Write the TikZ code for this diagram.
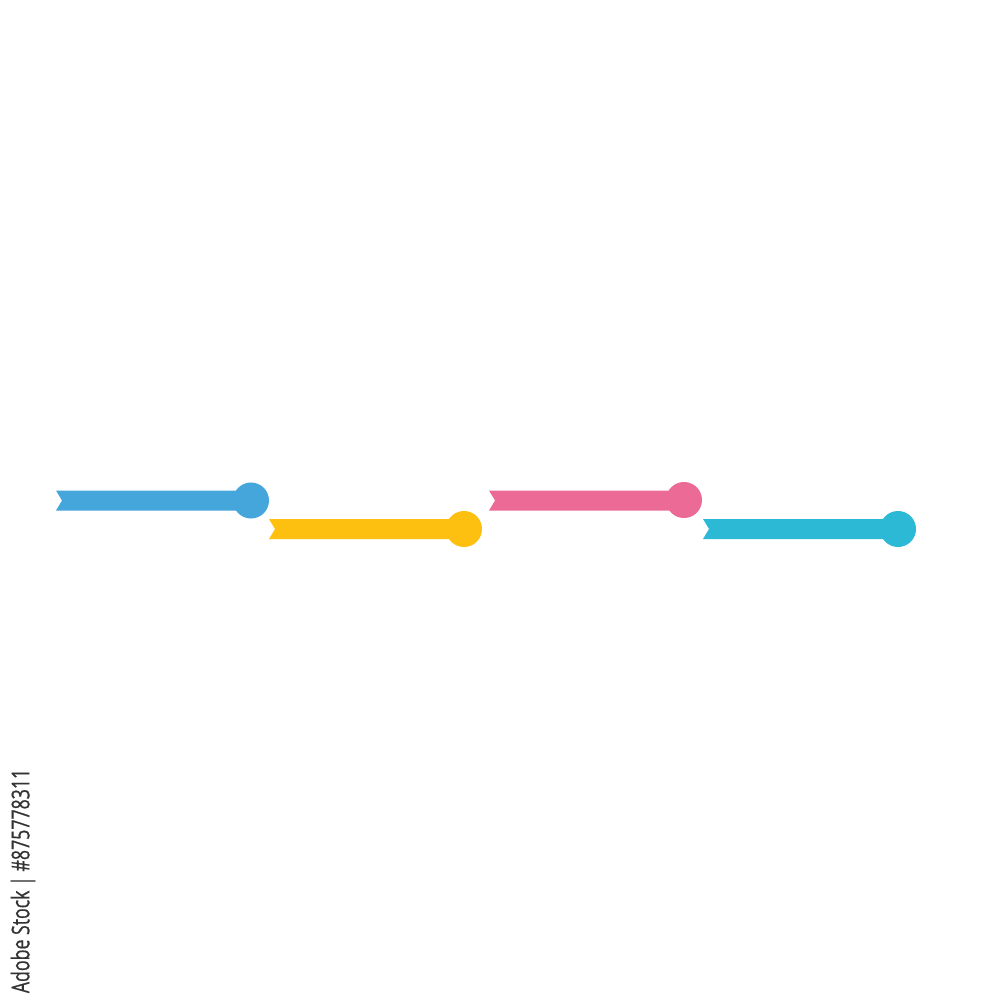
\documentclass[tikz,border=0pt]{standalone}
\usepackage{fontspec}
\newfontfamily\stockfont[FakeStretch=0.72, FakeBold=0.6]{Open Sans}
\definecolor{stepblue}{HTML}{45A6DC}
\definecolor{stepyellow}{HTML}{FDC010}
\definecolor{steppink}{HTML}{EC6A96}
\definecolor{stepteal}{HTML}{2CB9D6}

\begin{document}
\begin{tikzpicture}[x=0.01cm, y=-0.01cm, dot/.style={circle, inner sep=0pt, minimum size=0.36cm}]
		\useasboundingbox (0,0) rectangle (1000,1000);
		
		\fill[stepblue] (56,490.5) -- (251,490.5) -- (251,510.5) -- (56,510.5) -- (62,500.5) -- cycle;
		\node[dot, fill=stepblue] (d1) at (251,500.5) {};
		
		\fill[stepyellow] (269,519) -- (464,519) -- (464,539) -- (269,539) -- (275,529) -- cycle;
		\node[dot, fill=stepyellow] (d2) at (464,529) {};
		
		\fill[steppink] (489,490.5) -- (684,490.5) -- (684,510.5) -- (489,510.5) -- (495,500.5) -- cycle;
		\node[dot, fill=steppink] (d3) at (684,500) {};
		
		\fill[stepteal] (703,519) -- (898,519) -- (898,539) -- (703,539) -- (709,529) -- cycle;
		\node[dot, fill=stepteal] (d4) at (898,529) {};
		
		\node[rotate=90, inner sep=0pt, text=black!80, font=\stockfont\fontsize{7}{8}\selectfont] (credit) at (23,881) {Adobe Stock | \#875778311};
	\end{tikzpicture}
\end{document}
